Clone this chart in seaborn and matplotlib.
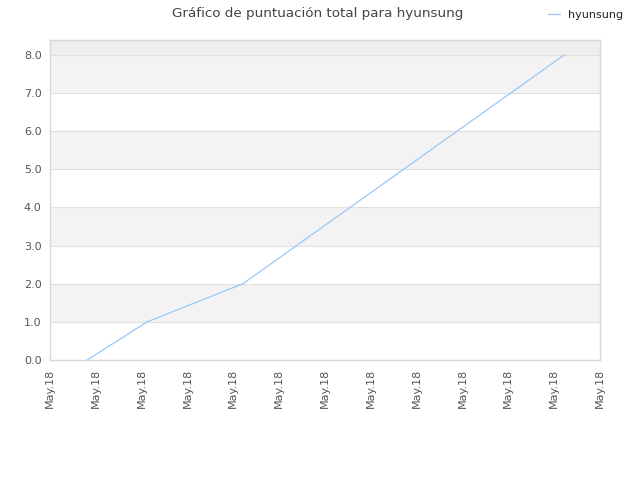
import matplotlib
matplotlib.use("Agg")
import matplotlib.pyplot as plt
import seaborn as sns
import pandas as pd

# Data
x_pos = [0.81, 2.12, 4.21, 11.22]
scores = [0.0, 1.0, 2.0, 8.0]
series_name = "hyunsung"
tick_positions = list(range(13))
tick_labels = ["May.18"] * 13
y_ticks = [0, 1, 2, 3, 4, 5, 6, 7, 8]
title = "Gráfico de puntuación total para hyunsung"

sns.set_style("white")
plt.rcParams['font.family'] = ['DejaVu Sans']

df = pd.DataFrame({"x": x_pos, "score": scores, "name": series_name})

fig = plt.figure(figsize=(6.4, 4.8), dpi=100)
ax = fig.add_axes([50/640, 120/480, 550/640, 320/480])

ymax = 8.39
# alternating bands
for lo in range(0, 8):
    if lo % 2 == 1:
        ax.axhspan(lo, lo + 1, color="#f3f3f3", zorder=0, lw=0)
ax.axhspan(8, ymax, color="#eeeeee", zorder=0, lw=0)
for y in y_ticks:
    ax.axhline(y, color="#e0e0e0", lw=0.8, zorder=1)

sns.lineplot(data=df, x="x", y="score", ax=ax, color="#99c7f5", lw=0.9,
             label=series_name, zorder=3)

ax.set_xlim(0, 12)
ax.set_ylim(0, ymax)
ax.set_xticks(tick_positions)
ax.set_xticklabels(tick_labels, rotation=90, fontsize=8, color="#555555")
ax.set_yticks(y_ticks)
ax.set_yticklabels([f"{v:.1f}" for v in y_ticks], fontsize=8, color="#555555")
ax.tick_params(length=0, pad=6)
ax.set_xlabel("")
ax.set_ylabel("")
for s in ax.spines.values():
    s.set_color("#d8d8d8")
    s.set_linewidth(1)

fig.suptitle(title, x=0.497, y=0.985, fontsize=9.7, color="#444444")
leg = ax.legend(loc="upper right", bbox_to_anchor=(0.99, 1.0),
                bbox_transform=fig.transFigure, frameon=False, fontsize=8,
                handlelength=1.0, handletextpad=0.8)
for t in leg.get_texts():
    t.set_color("#222222")

fig.savefig("out.png", dpi=100)
